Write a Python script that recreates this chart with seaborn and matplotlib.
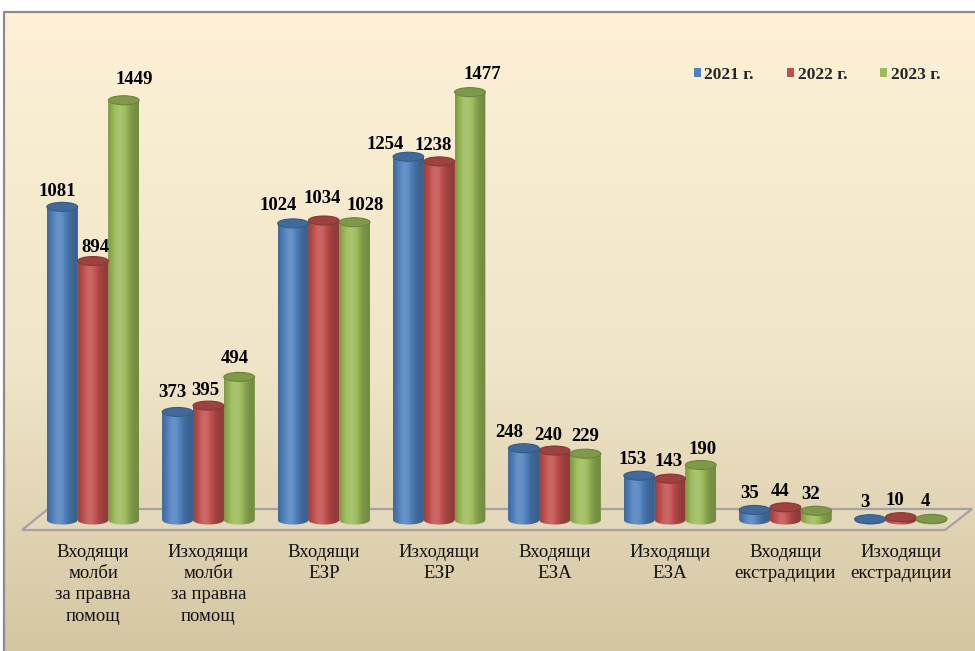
import numpy as np
import pandas as pd
import matplotlib
matplotlib.use("Agg")
import matplotlib.pyplot as plt
import seaborn as sns
from matplotlib.path import Path
from matplotlib.patches import PathPatch, Ellipse, Polygon, Rectangle
from matplotlib.colors import to_rgb
from matplotlib.font_manager import FontProperties

# ---- data -------------------------------------------------------------
categories = [
    "Входящи\nмолби\nза правна\nпомощ",
    "Изходящи\nмолби\nза правна\nпомощ",
    "Входящи\nЕЗР",
    "Изходящи\nЕЗР",
    "Входящи\nЕЗА",
    "Изходящи\nЕЗА",
    "Входящи\nекстрадиции",
    "Изходящи\nекстрадиции",
]
years = ["2021 г.", "2022 г.", "2023 г."]
values_2021 = [1081, 373, 1024, 1254, 248, 153, 35, 3]
values_2022 = [894, 395, 1034, 1238, 240, 143, 44, 10]
values_2023 = [1449, 494, 1028, 1477, 229, 190, 32, 4]
palette = ["#4F81BD", "#C0504D", "#9BBB59"]

# hand-placed value labels: (dx, dy) in pixels relative to the cap centre,
# one row per year, one column per category
label_shift = [
    [(-5, 15), (-5, 19), (-15, 18), (-23, 12), (-15, 16), (-7, 16), (-5, 16), (-5, 17)],
    [(2, 14), (-3, 15), (-2, 22), (-6, 16), (-6, 15), (-1, 17), (-5, 16), (-6, 17)],
    [(10, 21), (-4, 18), (11, 17), (12, 18), (0, 17), (2, 16), (-6, 16), (-6, 17)],
]

df = pd.DataFrame({
    "category": categories * 3,
    "year": [years[0]] * 8 + [years[1]] * 8 + [years[2]] * 8,
    "value": values_2021 + values_2022 + values_2023,
})

SERIF = "Liberation Serif"
W, H = 975, 651

sns.set_theme(style="white")
plt.rcParams["font.family"] = [SERIF, "DejaVu Serif"]

fig = plt.figure(figsize=(W / 100, H / 100), dpi=100)

# ---- background panel (pixel coordinates) ------------------------------
bg = fig.add_axes([0, 0, 1, 1], zorder=0)
bg.set_xlim(0, W)
bg.set_ylim(H, 0)
bg.axis("off")
top_c = np.array([253, 240, 214]) / 255
mid_c = np.array([240, 229, 200]) / 255
bot_c = np.array([212, 198, 162]) / 255
t = np.linspace(0, 1, 256)[:, None]
grad = np.where(t < 0.55,
                top_c + (mid_c - top_c) * (t / 0.55),
                mid_c + (bot_c - mid_c) * ((t - 0.55) / 0.45))
bg.imshow(grad[:, None, :], extent=[4, W, H, 12], aspect="auto", zorder=0)
bg.plot([4, 4], [12, H], color="#8C8C8C", lw=1.6, zorder=1)
bg.plot([4, W], [12, 12], color="#8C8C8C", lw=1.6, zorder=1)

# floor of the 3-D plot
floor = Polygon([(22, 530), (48, 509), (972, 509), (945, 530)], closed=True,
                facecolor=(1, 1, 1, 0.12), edgecolor="#A3A3A3", lw=1.6, zorder=2)
bg.add_patch(floor)

# ---- bars -------------------------------------------------------------
ax = fig.add_axes([0, 0, 1, 1], zorder=1)
ax.patch.set_alpha(0)
sns.barplot(data=df, x="category", y="value", hue="year", palette=palette,
            width=0.8, saturation=1, legend=False, ax=ax, errorbar=None)

YLO, YHI = -452, 1795
XLO, XHI = -0.806, 7.643
ELL_H = 31  # cap ellipse height in data units


def shade(c, s):
    c = np.asarray(c)
    s = np.asarray(s)[:, None]
    out = np.where(s <= 1, c * s, c + (1 - c) * (s - 1))
    return np.clip(out, 0, 1)


tt = np.linspace(0, 1, 64)
brightness = 0.74 + 0.40 * np.exp(-((tt - 0.38) / 0.30) ** 2)

bars = [p for p in ax.patches if isinstance(p, Rectangle)]
for k, p in enumerate(bars):
    series, cat = divmod(k, len(categories))
    x0, w, h = p.get_x(), p.get_width(), p.get_height()
    x1, xc = x0 + w, x0 + w / 2
    c = np.array(to_rgb(p.get_facecolor()))
    p.set_zorder(2)
    p.set_edgecolor("none")

    # body outline: straight sides and the front half of the bottom rim
    th = np.linspace(np.pi, 2 * np.pi, 40)
    arc = np.column_stack([xc + (w / 2) * np.cos(th), (ELL_H / 2) * np.sin(th)])
    verts = np.vstack([[x0, h], [x0, 0], arc, [x1, 0], [x1, h], [x0, h]])
    codes = [Path.MOVETO] + [Path.LINETO] * (len(verts) - 2) + [Path.CLOSEPOLY]
    body = PathPatch(Path(verts, codes), facecolor="none", edgecolor="none",
                     transform=ax.transData)
    ax.add_patch(body)
    img = shade(c, brightness)
    im = ax.imshow(img[None, :, :], extent=[x0, x1, -ELL_H / 2, h],
                   aspect="auto", zorder=3, interpolation="bilinear")
    im.set_clip_path(body)

    # top cap
    cap = Ellipse((xc, h), w, ELL_H, facecolor=shade(c, [0.82])[0],
                  edgecolor=shade(c, [0.70])[0], lw=0.8, zorder=4)
    ax.add_patch(cap)

    dx, dy = label_shift[series][cat]
    ax.annotate(f"{int(round(h))}", (xc, h), xytext=(dx, dy),
                textcoords="offset pixels", ha="center", va="center",
                fontsize=13.5, fontweight="bold", family=SERIF,
                color="black", zorder=5)

# category labels under the floor
for i, lab in enumerate(categories):
    ax.text(i, -82, lab, ha="center", va="top", fontsize=13.5,
            family=SERIF, color="#111111", linespacing=1.33, zorder=5)

ax.set_xlim(XLO, XHI)
ax.set_ylim(YLO, YHI)
ax.axis("off")

# legend
handles = [Rectangle((0, 0), 1, 1, facecolor=c, edgecolor="none") for c in palette]
fig.legend(handles, years, loc="center", bbox_to_anchor=(0.838, 0.885),
           ncol=3, frameon=False,
           prop=FontProperties(family=SERIF, weight="bold", size=12.5),
           handlelength=0.42, handleheight=0.42, handletextpad=0.2,
           columnspacing=1.9, borderpad=0.2)

fig.savefig("out.png", dpi=100)
